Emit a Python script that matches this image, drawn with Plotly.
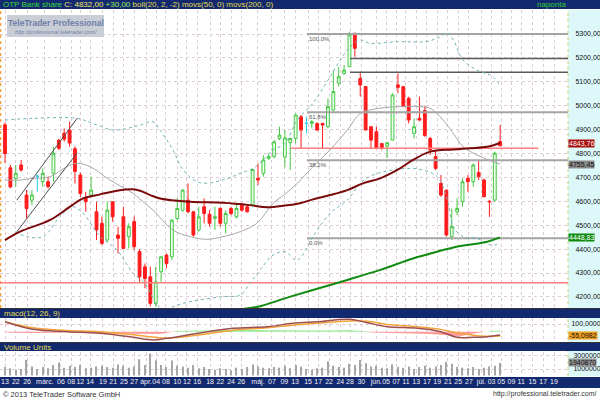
import plotly.graph_objects as go

# ---------------- data ----------------
opens = [4920, 4740, 4696, 4752, 4626, 4605, 4705, 4682, 4682, 4717,
         4856, 4885, 4898, 4820, 4710, 4612, 4626, 4556, 4508, 4438,
         4598, 4459, 4535, 4452, 4515, 4390, 4326, 4284, 4172, 4305,
         4375, 4368, 4528, 4563, 4605, 4556, 4480, 4577, 4546, 4529,
         4570, 4508, 4570, 4535, 4584, 4577, 4584, 4696, 4717, 4780,
         4787, 4863, 4785, 4845, 4863, 4954, 4926, 4926, 4926, 4926,
         4912, 4982, 5094, 5135, 5163, 5303, 5114, 5080, 4912, 4891,
         4842, 4831, 4856, 5087, 5080, 5031, 4884, 4947, 4980, 4863,
         4787, 4675, 4647, 4452, 4556, 4598, 4696, 4682, 4720, 4689,
         4600, 4605, 4850]
highs = [4930, 4752, 4752, 4773, 4647, 4647, 4710, 4738, 4703, 4828,
         4860, 4905, 4933, 4830, 4720, 4640, 4703, 4598, 4536, 4598,
         4600, 4494, 4577, 4508, 4536, 4400, 4340, 4326, 4326, 4368,
         4382, 4525, 4612, 4650, 4675, 4560, 4577, 4612, 4563, 4577,
         4577, 4563, 4577, 4591, 4594, 4584, 4735, 4758, 4793, 4800,
         4856, 4912, 4898, 4866, 4968, 4961, 4954, 4940, 4930, 4928,
         5031, 5149, 5163, 5170, 5310, 5305, 5142, 5080, 4912, 4912,
         4842, 4849, 5052, 5135, 5080, 5038, 4947, 5038, 5000, 4870,
         4815, 4710, 4647, 4570, 4612, 4696, 4710, 4758, 4773, 4696,
         4605, 4808, 4919]
lows = [4760, 4655, 4661, 4724, 4529, 4584, 4640, 4661, 4654, 4682,
        4815, 4850, 4828, 4675, 4619, 4556, 4619, 4438, 4417, 4431,
        4515, 4382, 4400, 4403, 4396, 4263, 4236, 4160, 4160, 4263,
        4320, 4354, 4521, 4556, 4550, 4452, 4473, 4508, 4494, 4480,
        4494, 4466, 4542, 4528, 4556, 4553, 4577, 4668, 4703, 4773,
        4780, 4856, 4743, 4731, 4842, 4821, 4884, 4905, 4895, 4821,
        4905, 4980, 5080, 5128, 5163, 5205, 5038, 4898, 4821, 4821,
        4814, 4780, 4856, 5052, 4996, 4926, 4863, 4935, 4870, 4794,
        4731, 4619, 4452, 4438, 4542, 4577, 4640, 4661, 4689, 4619,
        4535, 4598, 4835]
closes = [4800, 4660, 4717, 4731, 4570, 4626, 4705, 4717, 4661, 4801,
          4822, 4860, 4844, 4725, 4633, 4598, 4647, 4480, 4424, 4563,
          4535, 4445, 4403, 4494, 4410, 4284, 4277, 4173, 4263, 4368,
          4340, 4521, 4570, 4647, 4556, 4459, 4535, 4549, 4508, 4535,
          4508, 4549, 4549, 4570, 4563, 4556, 4733, 4689, 4773, 4787,
          4849, 4877, 4865, 4863, 4961, 4898, 4926, 4933, 4898, 4919,
          4996, 5059, 5121, 5149, 5296, 5240, 5087, 4898, 4856, 4821,
          4821, 4845, 5045, 5077, 4996, 4940, 4912, 4940, 4875, 4815,
          4738, 4626, 4459, 4494, 4570, 4682, 4682, 4752, 4703, 4619,
          4598, 4801, 4832]
volumes = [1.3, 1.1, 0.9, 1.0, 2.4, 1.4, 1.0, 1.3, 1.1, 1.6,
           2.0, 1.2, 1.5, 1.3, 1.6, 1.1, 1.2, 1.4, 1.5, 1.3,
           1.2, 1.7, 1.5, 1.2, 1.4, 2.5, 1.6, 3.4, 2.3, 1.6,
           1.3, 2.3, 1.5, 1.4, 1.2, 1.6, 1.1, 1.3, 1.0, 0.9,
           1.1, 1.0, 0.8, 1.2, 1.0, 1.3, 1.7, 1.4, 1.2, 1.1,
           1.3, 1.2, 1.5, 1.1, 1.6, 1.4, 1.0, 0.9, 1.1, 1.2,
           2.2, 1.5, 1.3, 1.2, 1.8, 1.6, 2.4, 1.9, 1.4, 1.5,
           1.2, 1.1, 1.7, 1.3, 1.2, 1.4, 1.0, 1.3, 1.5, 1.2,
           1.4, 1.6, 2.1, 1.8, 1.3, 1.2, 1.1, 1.3, 1.0, 1.2,
           1.4, 1.5, 1.94087]  # millions of units

tick_pos = [0, 2.0, 4.1, 7.4, 10.4, 12.3, 14.0, 15.8, 18.2, 20.1, 22.1, 24.0,
            26.2, 28.1, 29.9, 32.0, 33.8, 35.7, 38.1, 40.0, 42.0, 43.9, 47.0,
            49.6, 51.9, 53.9, 56.3, 58.2, 60.2, 62.3, 64.1, 66.2, 69.0, 70.8,
            72.7, 74.5, 76.4, 78.4, 80.3, 82.3, 84.2, 86.2, 88.5, 90.4, 92.2,
            94.1, 95.9, 98.0, 100.0, 102.0]
tick_text = ["13", "22", "26", "márc.", "06", "08", "12", "14", "19", "21", "25", "27",
             "ápr.", "04", "08", "10", "12", "16", "18", "22", "24", "26", "máj.",
             "07", "09", "13", "15", "17", "22", "24", "28", "30", "jún.", "05",
             "07", "11", "13", "17", "19", "21", "25", "27", "júl.", "03", "05",
             "09", "11", "15", "17", "19"]

price_ticks = [4200, 4300, 4400, 4500, 4600, 4700, 4800, 4900, 5000, 5100, 5200, 5300]

ma50_x = [0, 2.8, 8.4, 12.1, 14.5, 17.7, 20.8, 23.8, 25.1, 27.0, 28.8, 34.4, 40.5,
          45.5, 48.7, 52.0, 54.8, 57.2, 60.4, 63.6, 66.5, 69.7, 72.9, 75.8, 79.0,
          83.3, 86.4, 89.6, 92.0]
ma50_y = [4438, 4473, 4522, 4578, 4612, 4629, 4644, 4650, 4644, 4626, 4612, 4598, 4594,
          4584, 4575, 4582, 4592, 4608, 4626, 4647, 4675, 4696, 4731, 4773, 4808,
          4817, 4822, 4828, 4843.76]

ma200_x = [43.5, 47.0, 52.0, 57.2, 63.6, 69.7, 75.8, 78.1, 83.3, 89.6, 92.0]
ma200_y = [4148, 4159, 4194, 4229, 4271, 4313, 4361, 4375, 4407, 4431, 4448.83]

boll_mid_x = [0, 2.8, 5.2, 8.4, 11.5, 13.4, 15.8, 19.5, 23.8, 26.0, 27.5, 31.2, 34.4,
              37.5, 40.5, 43.7, 46.8, 49.8, 52.0, 54.3, 57.2, 60.4, 63.6, 66.0, 68.4,
              72.9, 77.1, 79.0, 81.4, 83.3, 85.1, 87.7, 89.6, 92.0]
boll_mid_y = [4689, 4689, 4696, 4703, 4745, 4759, 4745, 4689, 4633, 4591, 4563, 4480, 4452,
              4441, 4452, 4473, 4508, 4591, 4630, 4675, 4745, 4815, 4898, 4968, 4985,
              4996, 4996, 4989, 4940, 4884, 4829, 4794, 4775, 4755.45]

boll_up_x = [0, 5.2, 13.4, 17.1, 20.1, 22.7, 25.1, 27.5, 28.8, 31.2, 33.1, 36.2, 40.5,
             43.7, 46.1, 48.0, 49.8, 52.0, 54.3, 57.2, 60.4, 63.6, 66.0, 67.8, 72.9,
             78.1, 80.3, 82.2, 83.3, 85.1, 87.7, 90.7, 92.0]
boll_up_y = [4940, 4947, 4947, 4919, 4898, 4905, 4919, 4933, 4898, 4815, 4731, 4678, 4689,
             4717, 4738, 4773, 4815, 4842, 4940, 5010, 5121, 5233, 5275, 5261, 5268,
             5268, 5282, 5303, 5275, 5191, 5149, 5121, 5080]

boll_lo_x = [1.9, 4.1, 7.1, 10.2, 12.6, 14.5, 17.7, 20.8, 23.8, 26.0, 27.9, 29.7, 31.2,
             34.4, 40.5, 43.7, 45.5, 47.4, 49.8, 52.0, 54.3, 57.2, 60.4, 63.6, 66.0,
             68.4, 72.9, 77.1, 80.3, 82.2, 83.3, 85.1, 87.7, 90.2, 92.0]
boll_lo_y = [4473, 4452, 4452, 4536, 4577, 4550, 4452, 4396, 4299, 4257, 4180, 4140, 4159,
             4180, 4201, 4208, 4257, 4313, 4375, 4389, 4354, 4452, 4550, 4605, 4675,
             4710, 4734, 4734, 4703, 4605, 4494, 4452, 4445, 4417, 4424]

macd_x = [0, 5.2, 11.5, 17.7, 23.8, 27.5, 30.1, 36.2, 42.4, 48.7, 53.5, 58.0, 64.1,
          67.3, 71.0, 76.6, 80.9, 84.0, 87.0, 89.6, 92.0]
macd_y = [130, 31, 0, -21, -73, -108, -86, -17, 44, 65, 109, 130, 161,
          117, 65, 44, 0, -73, -73, -65, -43]
signal_y = [125, 50, 15, 0, -40, -70, -85, -40, 20, 50, 85, 110, 140,
            135, 95, 65, 30, -15, -45, -60, -55.0982]
hist_x = [0, 0.9, 4.6, 10.2, 11.3, 13.0, 17.7, 23.2, 28.8, 31.0, 32.2, 36.2, 42.4,
          49.3, 54.8, 58.5, 64.1, 66.4, 68.2, 73.4, 79.0, 82.7, 84.5, 87.4, 89.2,
          90.5, 92.0]
hist_y = [-5, -15, -18, -15, -2, -15, -22, -30, -30, -5, 10, 18, 22,
          20, 12, 15, 18, 5, -10, -20, -30, -50, -60, -20, 0, 10, 12]

fib_levels = [5300, 4973, 4772, 4445]
fib_labels = ["100,0%", "61,8%", "38,2%", "0,0%"]
fib_start = 56.1
resist_levels = [5198, 5140]
resist_start = 64.1
red_levels = [4822, 4259]
red_start = [53.1, -0.93]
red_end = [99.1, 104.6]
trend_x = [2.2, 13.4]
trend_upper = [4605, 4947]
trend_lower = [4473, 4803]

# ---------------- helpers (pixel -> paper) ----------------
PLOT_TOP, PLOT_BOT, PLOT_W = 10, 376, 568
def py(p):
    return (PLOT_BOT - p) / (PLOT_BOT - PLOT_TOP)
def px(p):
    return p / PLOT_W

XR = [-0.93, 104.6]
NAVY = "#13296f"
GRID = "#dccbd4"
FONT = "Liberation Sans, Arial, sans-serif"

fig = go.Figure()

def line(x, y, color, width, dash="solid", axis="y", shape="spline"):
    fig.add_trace(go.Scatter(x=x, y=y, mode="lines", xaxis="x" if axis == "y" else ("x2" if axis == "y2" else "x3"),
                             yaxis=axis, line=dict(color=color, width=width, dash=dash, shape=shape),
                             hoverinfo="skip", showlegend=False))

# horizontal level lines
for lv in fib_levels:
    line([fib_start, XR[1]], [lv, lv], "#a4a4a4", 2, shape="linear")
for lv in resist_levels:
    line([resist_start, XR[1]], [lv, lv], "#5a5a5a", 1.5, shape="linear")
for lv, s, e in zip(red_levels, red_start, red_end):
    line([s, e], [lv, lv], "#ff8080", 1.5, shape="linear")

# bollinger and moving averages
line(boll_up_x, boll_up_y, "#6fb4b4", 1, dash="dot")
line(boll_lo_x, boll_lo_y, "#6fb4b4", 1, dash="dot")
line(boll_mid_x, boll_mid_y, "#a8a8a8", 1)
line(ma50_x, ma50_y, "#7a0a0a", 2)
line(ma200_x, ma200_y, "#108a10", 2)

# trend channel
line(trend_x, trend_upper, "#505050", 1, shape="linear")
line(trend_x, trend_lower, "#505050", 1, shape="linear")

# candles
idx = list(range(len(opens)))
reg = [i for i in idx if opens[i] != closes[i]]
doji = [i for i in idx if opens[i] == closes[i]]
fig.add_trace(go.Candlestick(
    x=reg, open=[opens[i] for i in reg], high=[highs[i] for i in reg],
    low=[lows[i] for i in reg], close=[closes[i] for i in reg],
    increasing=dict(line=dict(color="#44c844", width=1), fillcolor="#ecffec"),
    decreasing=dict(line=dict(color="#ff1c1c", width=1), fillcolor="#ff1c1c"),
    whiskerwidth=0, xaxis="x", yaxis="y", showlegend=False, hoverinfo="skip"))
fig.add_trace(go.Candlestick(
    x=doji, open=[opens[i] for i in doji], high=[highs[i] for i in doji],
    low=[lows[i] for i in doji], close=[closes[i] for i in doji],
    increasing=dict(line=dict(color="#22ccee", width=1), fillcolor="#22ccee"),
    decreasing=dict(line=dict(color="#22ccee", width=1), fillcolor="#22ccee"),
    whiskerwidth=0, xaxis="x", yaxis="y", showlegend=False, hoverinfo="skip"))

# MACD panel
hist_pos = [max(v, 0) for v in hist_y]
hist_neg = [min(v, 0) for v in hist_y]
fig.add_trace(go.Scatter(x=hist_x, y=hist_neg, mode="lines", fill="tozeroy", fillcolor="#ff9c9c",
                         line=dict(width=0, color="#ff9c9c"), xaxis="x2", yaxis="y2", hoverinfo="skip", showlegend=False))
fig.add_trace(go.Scatter(x=hist_x, y=hist_pos, mode="lines", fill="tozeroy", fillcolor="#96ec96",
                         line=dict(width=0, color="#96ec96"), xaxis="x2", yaxis="y2", hoverinfo="skip", showlegend=False))
line(macd_x, signal_y, "#f2a43a", 1.5, axis="y2")
line(macd_x, macd_y, "#9c5050", 1.5, axis="y2")

# Volume panel
fig.add_trace(go.Bar(x=idx, y=[v * 1e6 for v in volumes], marker=dict(color="#a6a6a6", line=dict(width=0)),
                     width=0.22, xaxis="x3", yaxis="y3", hoverinfo="skip", showlegend=False))

# ---------------- layout ----------------
y_main = [py(308), 1.0]
y_macd = [py(342), py(318)]
y_vol = [0.0, py(352)]

xcommon = dict(range=XR, tickvals=tick_pos, ticktext=tick_text, showgrid=True, gridcolor=GRID,
               griddash="dot", gridwidth=1, zeroline=False, showline=False, ticks="", fixedrange=True,
               tickangle=0)
ytick = dict(family=FONT, size=7, color="#111")

fig.update_layout(
    width=600, height=400, margin=dict(l=0, r=32, t=PLOT_TOP, b=400 - PLOT_BOT),
    paper_bgcolor="white", plot_bgcolor="white", showlegend=False,
    font=dict(family=FONT, size=7, color="black"),
    xaxis=dict(**xcommon, domain=[0, 1], anchor="y", showticklabels=False, rangeslider=dict(visible=False)),
    xaxis2=dict(**xcommon, domain=[0, 1], anchor="y2", showticklabels=False, matches="x"),
    xaxis3=dict(**xcommon, domain=[0, 1], anchor="y3", showticklabels=True, matches="x",
                tickfont=dict(family=FONT, size=7, color="#eef1fa")),
    yaxis=dict(domain=y_main, range=[4153.6, 5400.4], side="right", anchor="x",
               tickvals=price_ticks, ticktext=[f"{v},00" for v in price_ticks],
               showgrid=True, gridcolor=GRID, griddash="dot", zeroline=False,
               ticks="outside", ticklen=5, tickcolor="rgba(0,0,0,0)", tickfont=ytick),
    yaxis2=dict(domain=y_macd, range=[-134, 178], side="right", anchor="x2",
                tickvals=[100], ticktext=["100,0000"], showgrid=True, gridcolor=GRID, griddash="dot",
                zeroline=False, ticks="outside", ticklen=1, tickcolor="rgba(0,0,0,0)", tickfont=ytick),
    yaxis3=dict(domain=y_vol, range=[-77000, 3614000], side="right", anchor="x3",
                tickvals=[1000000, 3000000], ticktext=["1000000", "3000000"], showgrid=True,
                gridcolor=GRID, griddash="dot", zeroline=False, ticks="outside", ticklen=3,
                tickcolor="rgba(0,0,0,0)", tickfont=ytick),
    boxgap=0.25,
)

R = 600 / PLOT_W  # paper x of the right figure edge
shapes = [
    dict(type="rect", xref="paper", yref="paper", x0=1, x1=R, y0=0, y1=1, fillcolor="#ddf8f9",
         line=dict(width=0), layer="below"),
    dict(type="line", xref="paper", yref="paper", x0=1, x1=1, y0=0, y1=1,
         line=dict(color="#d8c870", width=1, dash="dot"), layer="below"),
    dict(type="line", xref="paper", yref="paper", x0=0.001, x1=0.001, y0=py(308), y1=1,
         line=dict(color="#f0a040", width=1.5, dash="dot"), layer="below"),
    dict(type="rect", xref="paper", yref="paper", x0=0, x1=R, y0=py(9), y1=py(0), fillcolor=NAVY,
         line=dict(width=0), layer="below"),
    dict(type="rect", xref="paper", yref="paper", x0=0, x1=R, y0=py(318), y1=py(309), fillcolor=NAVY,
         line=dict(width=0), layer="below"),
    dict(type="rect", xref="paper", yref="paper", x0=0, x1=R, y0=py(351), y1=py(343), fillcolor=NAVY,
         line=dict(width=0), layer="below"),
    dict(type="rect", xref="paper", yref="paper", x0=0, x1=R, y0=py(388), y1=py(377), fillcolor=NAVY,
         line=dict(width=0), layer="below"),
    dict(type="line", xref="paper", yref="paper", x0=0, x1=R, y0=py(342.5), y1=py(342.5),
         line=dict(color="#333", width=1), layer="below"),
    dict(type="line", xref="paper", yref="paper", x0=0, x1=R, y0=py(308.5), y1=py(308.5),
         line=dict(color="#333", width=1), layer="below"),
    dict(type="rect", xref="paper", yref="paper", x0=px(7), x1=px(104), y0=py(37), y1=py(15),
         fillcolor="#c9cdd5", line=dict(width=0), layer="above"),
]
fig.update_layout(shapes=shapes)

ann = []
def text(x, y, s, size=7, color="#000", xanchor="left", bg=None, family=FONT):
    d = dict(xref="paper", yref="paper", x=x, y=y, text=s, showarrow=False, xanchor=xanchor,
             yanchor="middle", font=dict(family=family, size=size, color=color), borderpad=0)
    if bg:
        d["bgcolor"] = bg
    ann.append(d)

text(px(2), py(4.5),
     "<span style='color:#3ddc3d'>OTP Bank share</span> "
     "<span style='color:#f4ee66'>C: 4832,00</span> "
     "<span style='color:#9ef05a'>+30,00</span> "
     "<span style='color:#e2dc50'>boll(20, 2, -2) movs(50, 0) movs(200, 0)</span>", size=8)
text(px(567), py(4.5), "naponta", size=8, color="#2fd02f", xanchor="right")
text(px(3), py(313.5), "macd(12, 26, 9)", size=8, color="#e2dc50")
text(px(3), py(347), "Volume Units", size=8, color="#e2dc50")

text(px(55.5), py(23), "<b>TeleTrader Professional</b>", size=8.5, color="#6f80aa", xanchor="center")
text(px(55.5), py(31.5), "<i>http://professional.teletrader.com/</i>", size=5.5, color="#6f80aa",
     xanchor="center")

for lv, lab in zip(fib_levels, fib_labels):
    ann.append(dict(xref="x", yref="y", x=fib_start, y=lv, text=lab, showarrow=False, xanchor="left",
                    yanchor="middle", yshift=-5, font=dict(family=FONT, size=6, color="#555")))

def box(yref, yval, s, bg, fg):
    ann.append(dict(xref="paper", yref=yref, x=1.0, y=yval, text=s, showarrow=False, xanchor="left",
                    yanchor="middle", xshift=0, bgcolor=bg, borderpad=0,
                    font=dict(family=FONT, size=7, color=fg)))
box("y", ma50_y[-1], "4843,76", "#a80d0d", "#ffffff")
box("y", boll_mid_y[-1], "4755,45", "#8c8c8c", "#101010")
box("y", ma200_y[-1], "4448,83", "#0c8a0c", "#ffffff")
box("y2", signal_y[-1], "-55,0982", "#f0a020", "#101010")
box("y3", volumes[-1] * 1e6, "1940870", "#909090", "#101010")

text(px(2), py(394), "© 2013 TeleTrader Software GmbH", size=7.5, color="#333")
text(px(598), py(394), "http://professional.teletrader.com/", size=7, color="#333", xanchor="right")

fig.update_layout(annotations=ann)
fig.write_html("out.html", config={"displayModeBar": False},
               post_script="document.body.style.margin='0';document.body.style.overflow='hidden';")
